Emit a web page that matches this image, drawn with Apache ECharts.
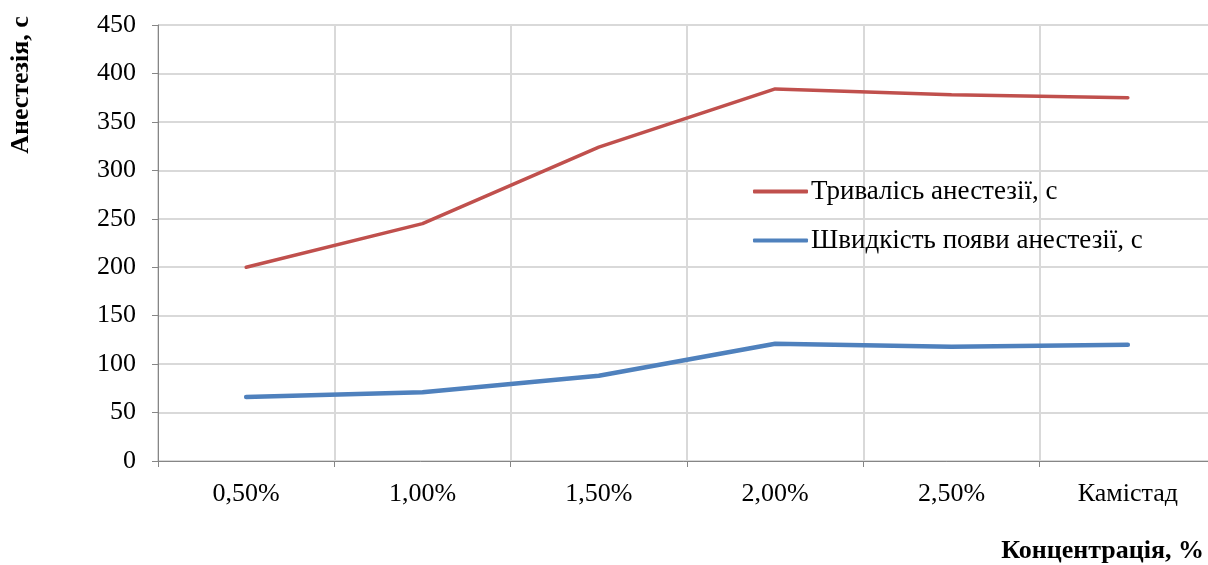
<!DOCTYPE html>
<html>
<head>
<meta charset="utf-8">
<script src="https://cdn.jsdelivr.net/npm/echarts@6/dist/echarts.min.js"></script>
<style>
  html, body { margin: 0; padding: 0; background: #fff; }
  #chart { width: 1208px; height: 565px; }
</style>
</head>
<body>
<div id="chart"></div>
<script>
// дані з графіка
const categories = ['0,50%', '1,00%', '1,50%', '2,00%', '2,50%', 'Камістад'];
const duration = [200, 245, 324, 384, 378, 375];
const onset = [66, 71, 88, 121, 118, 120];
const seriesNames = ['Тривалісь анестезії, с', 'Швидкість появи анестезії, с'];

const font = '"Liberation Serif", "Times New Roman", serif';
const gridColor = '#D9D9D9';
const axisColor = '#868686';

const myChart = echarts.init(document.getElementById('chart'));

const option = {
  animation: false,
  grid: { left: 158, top: 25, width: 1058, height: 436, outerBoundsMode: 'none', containLabel: false },
  legend: {
    orient: 'vertical',
    left: 748,
    top: 173,
    icon: 'roundRect',
    itemWidth: 55,
    itemHeight: 4,
    itemGap: 22,
    data: seriesNames,
    textStyle: { fontFamily: font, fontSize: 27, color: '#000', padding: [0, 0, 0, -2] }
  },
  xAxis: {
    type: 'category',
    data: categories,
    boundaryGap: true,
    axisLine: { lineStyle: { color: axisColor, width: 1 } },
    axisTick: { show: true, length: 6, alignWithLabel: false, lineStyle: { color: axisColor } },
    splitLine: { show: true, lineStyle: { color: gridColor, width: 2 } },
    axisLabel: { color: '#000', fontFamily: font, fontSize: 26, margin: 20, interval: 0 }
  },
  yAxis: {
    type: 'value',
    min: 0,
    max: 450,
    interval: 50,
    axisLine: { show: true, lineStyle: { color: axisColor, width: 1 } },
    axisTick: { show: true, length: 6, lineStyle: { color: axisColor } },
    splitLine: { show: true, lineStyle: { color: gridColor, width: 2 } },
    axisLabel: { color: '#000', fontFamily: font, fontSize: 26, margin: 22 }
  },
  graphic: [
    {
      type: 'text',
      x: 21,
      y: 85,
      rotation: Math.PI / 2,
      style: {
        text: 'Анестезія, с',
        fontFamily: font,
        fontSize: 26,
        fontWeight: 'bold',
        fill: '#000',
        align: 'center',
        verticalAlign: 'middle'
      }
    },
    {
      type: 'text',
      x: 1204,
      y: 551,
      style: {
        text: 'Концентрація, %',
        fontFamily: font,
        fontSize: 26,
        fontWeight: 'bold',
        fill: '#000',
        align: 'right',
        verticalAlign: 'middle'
      }
    }
  ],
  series: [
    {
      name: seriesNames[0],
      type: 'line',
      data: duration,
      symbol: 'none',
      smooth: false,
      lineStyle: { color: '#C0504D', width: 3.5, cap: 'round' },
      itemStyle: { color: '#C0504D' }
    },
    {
      name: seriesNames[1],
      type: 'line',
      data: onset,
      symbol: 'none',
      smooth: false,
      lineStyle: { color: '#4F81BD', width: 4.5, cap: 'round' },
      itemStyle: { color: '#4F81BD' }
    }
  ]
};

myChart.setOption(option);
</script>
</body>
</html>
